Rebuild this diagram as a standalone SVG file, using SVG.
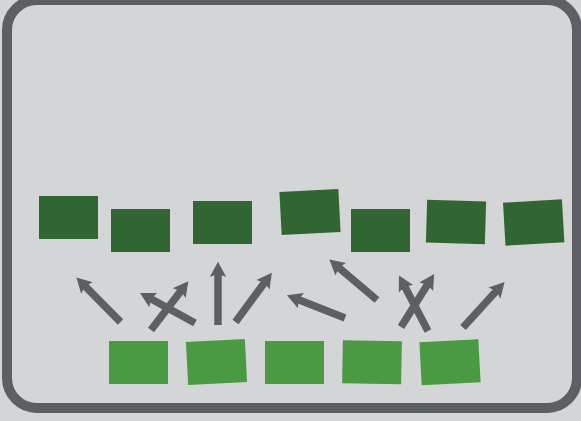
<svg xmlns="http://www.w3.org/2000/svg" width="581" height="421" viewBox="0 0 581 421">
<defs>
<style>
.top{fill:#316633}
.bot{fill:#4a9a43}
.arr{stroke:#5e5f64;stroke-width:7.5;fill:none;marker-end:url(#ah)}
</style>
<marker id="ah" markerUnits="userSpaceOnUse" markerWidth="20" markerHeight="20" viewBox="-4 -8 14 16" refX="0" refY="0" orient="auto">
<path d="M-3,-6.5 L9,0 L-3,6.5 L-1,0 z" fill="#5e5f64"/>
</marker>
</defs>
<rect x="0" y="0" width="581" height="421" fill="#d4d5d7"/>
<rect id="frame" x="7" y="0" width="570" height="408" rx="30" ry="30" fill="#d4d5d7" stroke="#5e5f64" stroke-width="10"/>
<g id="top-row">
<g id="t1"><rect class="top" x="39" y="196" width="59" height="43"/></g>
<g id="t2"><rect class="top" x="111" y="209" width="59" height="43"/></g>
<g id="t3"><rect class="top" x="193" y="201" width="59" height="43"/></g>
<g id="t4"><rect class="top" x="280.5" y="190.5" width="59" height="43" transform="rotate(-3 310 212)"/></g>
<g id="t5"><rect class="top" x="351" y="209" width="59" height="43"/></g>
<g id="t6"><rect class="top" x="426.5" y="200.5" width="59" height="43" transform="rotate(1.7 456 222)"/></g>
<g id="t7"><rect class="top" x="504.2" y="201" width="59" height="43" transform="rotate(-3.3 533.7 222.5)"/></g>
</g>
<g id="bottom-row">
<g id="b1"><rect class="bot" x="109" y="341" width="59" height="43"/></g>
<g id="b2"><rect class="bot" x="187" y="340.5" width="59" height="43" transform="rotate(-3 216.5 362)"/></g>
<g id="b3"><rect class="bot" x="265" y="341" width="59" height="43"/></g>
<g id="b4"><rect class="bot" x="342.5" y="340.8" width="59" height="43" transform="rotate(1 372 362.3)"/></g>
<g id="b5"><rect class="bot" x="420.5" y="340.8" width="59" height="43" transform="rotate(-3 450 362.3)"/></g>
</g>
<g id="connectors">
<line class="arr" x1="120.5" y1="322" x2="84.3" y2="285.4"/>
<line class="arr" x1="151" y1="330" x2="181.5" y2="290.1"/>
<line class="arr" x1="195" y1="323" x2="149.9" y2="298.3"/>
<line class="arr" x1="218" y1="325" x2="218" y2="273"/>
<line class="arr" x1="235.5" y1="322" x2="265.2" y2="281.7"/>
<line class="arr" x1="345" y1="318" x2="297.4" y2="299.3"/>
<line class="arr" x1="377" y1="300" x2="337.9" y2="266.8"/>
<line class="arr" x1="428" y1="331" x2="404.2" y2="285.5"/>
<line class="arr" x1="401" y1="327" x2="428.2" y2="283.6"/>
<line class="arr" x1="463" y1="327.5" x2="497" y2="290.2"/>
</g>
</svg>
